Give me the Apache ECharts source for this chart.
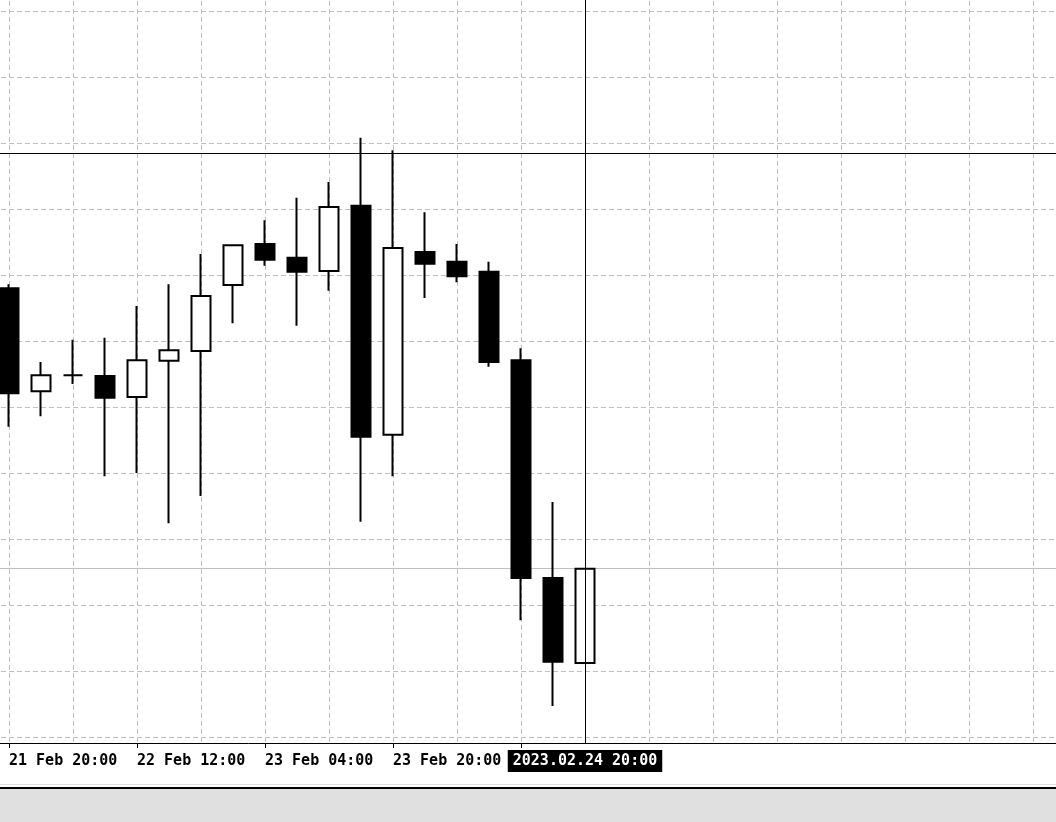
<!DOCTYPE html>
<html>
<head>
<meta charset="utf-8">
<script src="https://cdn.jsdelivr.net/npm/echarts@6/dist/echarts.min.js"></script>
<style>
html,body{margin:0;padding:0;background:#fff;overflow:hidden;width:1056px;height:822px;position:relative}
#c{position:absolute;left:-23px;top:-55px;width:1088px;height:877px}
</style>
</head>
<body>
<div id="c"></div>
<script>
// ---- data (4H bars) ----
const times = ['2023.02.21 20:00','2023.02.22 00:00','2023.02.22 04:00','2023.02.22 08:00','2023.02.22 12:00','2023.02.22 16:00','2023.02.22 20:00','2023.02.23 00:00','2023.02.23 04:00','2023.02.23 08:00','2023.02.23 12:00','2023.02.23 16:00','2023.02.23 20:00','2023.02.24 00:00','2023.02.24 04:00','2023.02.24 08:00','2023.02.24 12:00','2023.02.24 16:00','2023.02.24 20:00'];
const opens  = [1.05980,1.05824,1.05848,1.05847,1.05815,1.05870,1.05885,1.05985,1.06047,1.06026,1.06006,1.06105,1.05758,1.06035,1.06020,1.06005,1.05871,1.05541,1.05412];
const closes = [1.05821,1.05848,1.05848,1.05814,1.05871,1.05886,1.05968,1.06045,1.06023,1.06005,1.06103,1.05755,1.06041,1.06017,1.05998,1.05868,1.05541,1.05414,1.05555];
const lows   = [1.05770,1.05786,1.05835,1.05695,1.05700,1.05624,1.05665,1.05927,1.06014,1.05923,1.05976,1.05626,1.05695,1.05965,1.05989,1.05861,1.05477,1.05347,1.05412];
const highs  = [1.05986,1.05868,1.05902,1.05905,1.05953,1.05986,1.06032,1.06045,1.06083,1.06117,1.06141,1.06208,1.06189,1.06095,1.06047,1.06020,1.05889,1.05656,1.05555];
const bidPrice = 1.05555;
const crossTime = '2023.02.24 20:00';
const crossPrice = 1.06185;
const priceMin = 1.0520, priceMax = 1.0650, priceStep = 0.0010;
const leadSlots = 1, futureSlots = 15, labelEvery = 4;
const monthNames = ['Jan','Feb','Mar','Apr','May','Jun','Jul','Aug','Sep','Oct','Nov','Dec'];

// ---- build ----
const categories = [];
for (let i = 0; i < leadSlots; i++) categories.push('');
times.forEach(t => categories.push(t));
for (let i = 0; i < futureSlots; i++) categories.push('');

const EMPTY = ['-','-','-','-'];
const candles = [];
for (let i = 0; i < leadSlots; i++) candles.push(EMPTY);
opens.forEach((o, i) => candles.push([o, closes[i], lows[i], highs[i]]));

function shortLabel(t) {
  const [d, hm] = t.split(' ');
  const p = d.split('.');
  return parseInt(p[2], 10) + ' ' + monthNames[parseInt(p[1], 10) - 1] + ' ' + hm;
}
const showTick = (idx, val) => val !== '' && (idx - leadSlots) % labelEvery === 0;

const FONT = '"DejaVu Sans Mono", monospace';
const gridColor = '#c0c0c0';
// the chart canvas is offset by (-23,-55) so that the plot extends past the window edges
const OX = 23, OY = 55, W = 1056;

const chart = echarts.init(document.getElementById('c'), null, {renderer: 'canvas'});
chart.setOption({
  animation: false,
  backgroundColor: '#ffffff',
  grid: {left: 0, right: 0, top: 0, bottom: 19},
  xAxis: [
    {
      type: 'category', data: categories, boundaryGap: false, position: 'bottom',
      offset: -60, z: 10,
      axisLine: {show: true, onZero: false, lineStyle: {color: '#000', width: 1}},
      axisTick: {show: true, length: 5, interval: showTick, lineStyle: {color: '#000', width: 1}},
      axisLabel: {show: true, interval: showTick, formatter: shortLabel, align: 'left',
        margin: 11, color: '#000', fontFamily: FONT, fontSize: 15, fontWeight: 'bold'},
      splitLine: {show: false},
      axisPointer: {
        show: true, type: 'none', value: crossTime, status: 'show', triggerTooltip: false,
        label: {show: true, backgroundColor: '#000', color: '#fff', fontFamily: FONT, fontSize: 15,
          fontWeight: 'bold', padding: [4, 5, 3, 5], margin: 7, borderRadius: 0}
      }
    },
    {
      type: 'category', data: categories, boundaryGap: false, position: 'bottom', z: 0,
      axisLine: {show: false}, axisTick: {show: false}, axisLabel: {show: false},
      splitLine: {show: true, interval: (idx) => (idx - leadSlots) % 2 === 0,
        lineStyle: {color: gridColor, width: 1, type: [5, 3]}}
    }
  ],
  yAxis: {
    type: 'value', position: 'right', min: priceMin, max: priceMax, interval: priceStep, z: 0,
    axisLine: {show: false}, axisTick: {show: false}, axisLabel: {show: false},
    splitLine: {show: true, lineStyle: {color: gridColor, width: 1, type: [5, 3]}}
  },
  series: [
    {
      type: 'candlestick', data: candles, barWidth: 19, z: 2, silent: true,
      itemStyle: {color: '#ffffff', color0: '#000000', borderColor: '#000000', borderColor0: '#000000', borderWidth: 2},
      markLine: {silent: true, symbol: 'none', z: 5, precision: 5, label: {show: false},
        lineStyle: {color: '#000', width: 1, type: 'solid'},
        data: [{xAxis: crossTime}, {yAxis: crossPrice}]}
    },
    {
      type: 'candlestick', data: [EMPTY], z: 1, silent: true,
      markLine: {silent: true, symbol: 'none', z: 1, precision: 5, label: {show: false},
        lineStyle: {color: gridColor, width: 1, type: 'solid'},
        data: [{yAxis: bidPrice}]}
    }
  ],
  graphic: [
    {type: 'rect', z: 6, silent: true, shape: {x: 0, y: OY + 744, width: W + OX + 40, height: 43}, style: {fill: '#ffffff'}},
    {type: 'rect', z: 7, silent: true, shape: {x: 0, y: OY + 784, width: W + OX + 40, height: 1}, style: {fill: '#e0e0e0'}},
    {type: 'rect', z: 7, silent: true, shape: {x: 0, y: OY + 787, width: W + OX + 40, height: 2}, style: {fill: '#000000'}},
    {type: 'rect', z: 7, silent: true, shape: {x: 0, y: OY + 789, width: W + OX + 40, height: 40}, style: {fill: '#e0e0e0'}}
  ]
});
</script>
</body>
</html>
